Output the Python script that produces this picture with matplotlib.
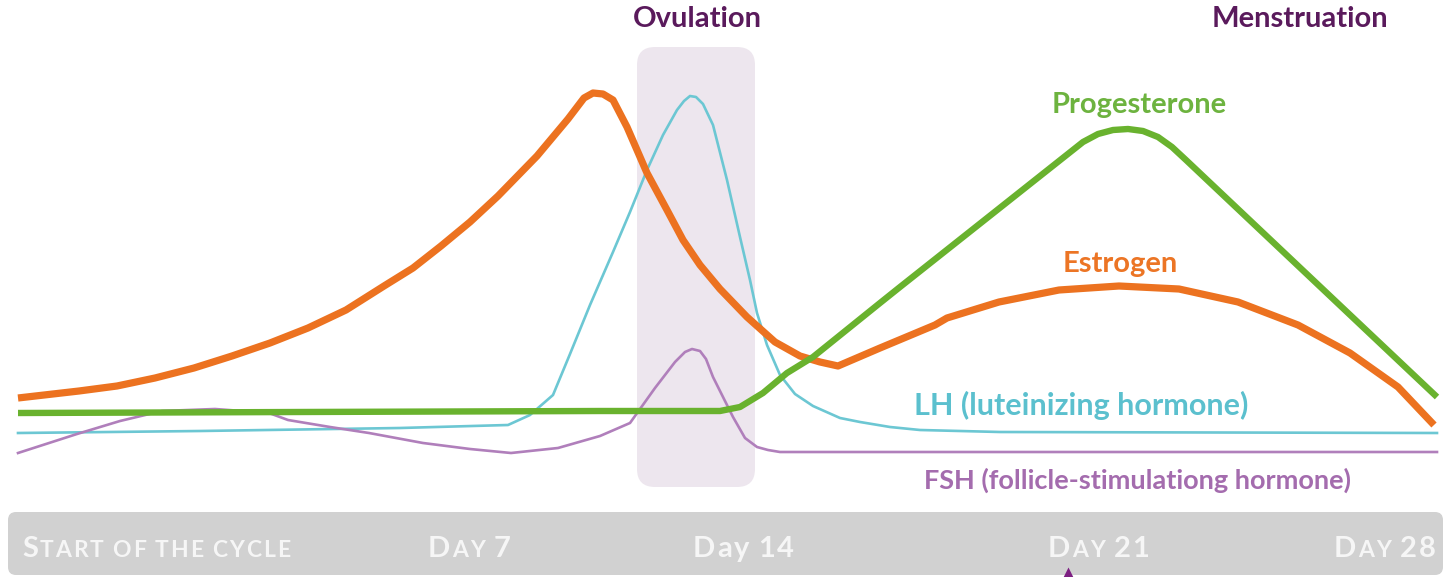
import matplotlib
matplotlib.use("Agg")
import matplotlib.pyplot as plt
import matplotlib.patches as patches

# positions run along the cycle (0..1445), levels are heights above the bottom
estrogen_x = [18, 79, 117, 155, 194, 232, 270, 308, 346, 384, 413, 441, 470, 498, 537, 568,
              584, 593, 603, 613, 627, 647, 667, 683, 700, 720, 747, 775, 800, 820, 838, 880,
              935, 947, 999, 1059, 1119, 1179, 1238, 1298, 1350, 1398, 1434]
estrogen_y = [179, 186, 191, 199, 209, 221, 234, 249, 267, 291, 309, 331, 355, 381, 421, 458,
              479, 484, 483, 477, 450, 404, 367, 337, 312, 288, 260, 235, 221, 215, 211, 229,
              252, 259, 275, 287, 291, 288, 275, 252, 224, 190, 152]

progesterone_x = [18, 300, 600, 720, 740, 763, 787, 813, 880, 900, 1083, 1098, 1113, 1128,
                  1143, 1158, 1172, 1186, 1437]
progesterone_y = [164, 165, 166, 166, 170, 184, 204, 220, 274, 290, 435, 443, 447, 448,
                  446, 440, 430, 417, 180]

lh_x = [18, 200, 400, 508, 530, 553, 570, 590, 613, 630, 647, 663, 677, 684, 690, 696, 703,
        713, 727, 740, 750, 757, 767, 780, 795, 813, 840, 860, 890, 920, 1000, 1437]
lh_y = [144, 146, 149, 152, 162, 182, 223, 272, 325, 365, 407, 442, 467, 476, 481, 480, 473,
        452, 397, 340, 297, 264, 232, 202, 183, 171, 159, 155, 150, 147, 145, 144]

fsh_x = [18, 77, 120, 162, 215, 269, 288, 330, 369, 423, 470, 511, 558, 600, 630, 655, 675,
         685, 692, 700, 706, 713, 733, 745, 757, 768, 780, 850, 1437]
fsh_y = [124, 143, 156, 166, 168, 164, 157, 150, 144, 134, 128, 124, 129, 141, 154, 189, 215,
         225, 228, 226, 218, 200, 160, 139, 130, 127, 125, 125, 125]

# ovulation window and day marks on the bottom bar
ovulation_span = (637, 755)
day_labels = ["Start of the cycle", "Day 7", "Day 14", "Day 21", "Day 28"]
day_label_x = [22, 428, 693, 1048, 1334]
today_x = 1068

# colors
c_orange = '#ec7220'
c_green = '#69b22e'
c_cyan = '#6cc7d3'
c_purple = '#b07fbb'
c_title = '#5a1a5c'

fig = plt.figure(figsize=(14.45, 5.77), dpi=100)
ax = fig.add_axes([0, 0, 1, 1])
ax.set_xlim(0, 1445)
ax.set_ylim(0, 577)
ax.axis('off')

font = 'Lato'

# Ovulation window box
box = patches.FancyBboxPatch((ovulation_span[0], 90), ovulation_span[1] - ovulation_span[0], 440,
                             boxstyle="round,pad=0,rounding_size=18",
                             facecolor='#ede6ee', edgecolor='none', zorder=0)
ax.add_patch(box)

# hormone curves
ax.plot(lh_x, lh_y, color=c_cyan, lw=1.9, solid_joinstyle='round', zorder=2)
ax.plot(fsh_x, fsh_y, color=c_purple, lw=1.9, solid_joinstyle='round', zorder=3)
ax.plot(estrogen_x, estrogen_y, color=c_orange, lw=5.2, solid_joinstyle='round',
        solid_capstyle='butt', zorder=4)
ax.plot(progesterone_x, progesterone_y, color=c_green, lw=4.6, solid_joinstyle='round',
        solid_capstyle='butt', zorder=5)

# labels
ax.text(697, 550, 'Ovulation', color=c_title, fontsize=21, fontweight='bold',
        family=font, ha='center', va='baseline')
ax.text(1300, 550, 'Menstruation', color=c_title, fontsize=21, fontweight='bold',
        family=font, ha='center', va='baseline')
ax.text(1139, 464, 'Progesterone', color='#6db33f', fontsize=21, fontweight='bold',
        family=font, ha='center', va='baseline')
ax.text(1120, 305, 'Estrogen', color='#ec7525', fontsize=21, fontweight='bold',
        family=font, ha='center', va='baseline')
ax.text(1081, 162, 'LH (luteinizing hormone)', color='#5bc0ce', fontsize=22,
        fontweight='bold', family=font, ha='center', va='baseline')
ax.text(1137, 88, 'FSH (follicle-stimulationg hormone)', color='#a46cae', fontsize=19.5,
        fontweight='bold', family=font, ha='center', va='baseline')

# bottom bar
bar = patches.FancyBboxPatch((8, 2), 1435, 63, boxstyle="round,pad=0,rounding_size=8",
                             facecolor='#d1d1d1', edgecolor='none', zorder=1)
ax.add_patch(bar)

renderer = fig.canvas.get_renderer()


def small_caps(x, y, s, big=21, small=16.5, track=1.9, caps=True):
    """Write s char by char; lowercase letters become smaller capitals."""
    for ch in s:
        if ch == ' ':
            x += small * 0.42
            continue
        if caps and ch.islower():
            size, txt = small, ch.upper()
        else:
            size, txt = big, ch
        t = ax.text(x, y, txt, color='#f6f6f6', fontsize=size, fontweight='bold',
                    family=font, ha='left', va='baseline', zorder=6)
        bb = t.get_window_extent(renderer)
        x0, _ = ax.transData.inverted().transform((bb.x0, bb.y0))
        x1, _ = ax.transData.inverted().transform((bb.x1, bb.y0))
        x += (x1 - x0) + track


for lab, lx in zip(day_labels, day_label_x):
    small_caps(lx, 20, lab, caps=(lab != 'Day 14'))

# marker for the current day
ax.plot([today_x], [0], marker='^', ms=14, color='#7d1f82', mec='none', zorder=7, clip_on=True)

fig.savefig('out.png', dpi=100)
